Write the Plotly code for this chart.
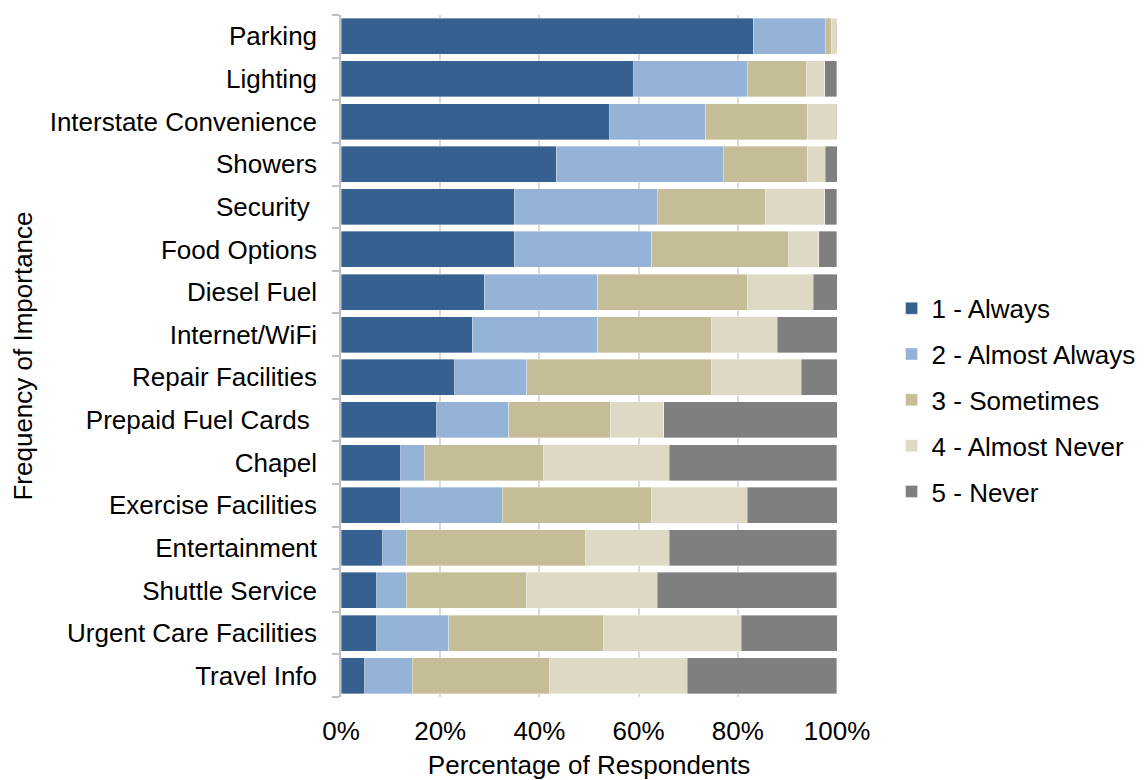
import plotly.graph_objects as go

# Amenities, listed top to bottom
amenities = [
    "Parking", "Lighting", "Interstate Convenience", "Showers", "Security ",
    "Food Options", "Diesel Fuel", "Internet/WiFi", "Repair Facilities",
    "Prepaid Fuel Cards ", "Chapel", "Exercise Facilities", "Entertainment",
    "Shuttle Service", "Urgent Care Facilities", "Travel Info",
]

# Share of respondents (%) for each response level, same order as amenities
always = [83.1, 59.0, 54.2, 43.4, 34.9, 34.9, 28.9, 26.5, 22.9, 19.3, 12.0, 12.0, 8.4, 7.2, 7.2, 4.8]
almost_always = [14.5, 22.9, 19.3, 33.7, 28.9, 27.7, 22.9, 25.3, 14.5, 14.5, 4.8, 20.5, 4.8, 6.0, 14.5, 9.6]
sometimes = [1.2, 12.0, 20.5, 16.9, 21.7, 27.7, 30.1, 22.9, 37.3, 20.5, 24.1, 30.1, 36.1, 24.1, 31.3, 27.7]
almost_never = [1.2, 3.6, 6.0, 3.6, 12.0, 6.0, 13.3, 13.3, 18.1, 10.8, 25.3, 19.3, 16.9, 26.5, 27.7, 27.7]
never = [0.0, 2.4, 0.0, 2.4, 2.4, 3.6, 4.8, 12.0, 7.2, 34.9, 33.7, 18.1, 33.7, 36.1, 19.3, 30.1]

series = [
    ("1 - Always", always, "#36608F"),
    ("2 - Almost Always", almost_always, "#95B3D7"),
    ("3 - Sometimes", sometimes, "#C4BD97"),
    ("4 - Almost Never", almost_never, "#DDD9C4"),
    ("5 - Never", never, "#7F7F7F"),
]

x_ticks = [0, 20, 40, 60, 80, 100]
x_ticklabels = ["0%", "20%", "40%", "60%", "80%", "100%"]

FONT = "Liberation Sans, Arial, sans-serif"
FS = 26

fig = go.Figure()
for i, (name, vals, color) in enumerate(series):
    fig.add_trace(go.Bar(
        y=amenities, x=vals, name=name, orientation="h",
        marker=dict(color=color, line=dict(width=0.6, color="rgba(255,255,255,0.6)")),
        legendgroup=f"g{i}",
        hoverinfo="skip",
    ))

fig.update_layout(
    barmode="stack",
    bargap=0.155,
    width=1146, height=780,
    margin=dict(l=341, r=309, t=15, b=83, autoexpand=False),
    paper_bgcolor="white", plot_bgcolor="white",
    font=dict(family=FONT, size=FS, color="black"),
    showlegend=True,
    legend=dict(
        x=1.11, xanchor="left", y=0.435, yanchor="middle",
        traceorder="grouped", tracegroupgap=9,
        font=dict(family=FONT, size=FS, color="black"),
        bgcolor="rgba(0,0,0,0)", borderwidth=0,
    ),
    xaxis=dict(
        range=[0, 100], tickvals=x_ticks, ticktext=x_ticklabels,
        showgrid=True, gridcolor="#D9D9D9", gridwidth=2,
        zeroline=False, showline=False, ticks="",
        ticklabelstandoff=16,
        title=dict(text="Percentage of Respondents", standoff=16,
                   font=dict(family=FONT, size=FS, color="black")),
        fixedrange=True,
    ),
    yaxis=dict(
        categoryorder="array", categoryarray=amenities,
        tickvals=amenities,
        ticktext=[a.replace(" ", "\u00a0") if a.endswith(" ") else a for a in amenities],
        autorange="reversed",
        showgrid=False, zeroline=False,
        showline=True, linecolor="#BFBFBF", linewidth=1.5,
        ticks="outside", ticklen=7, tickcolor="#BFBFBF", tickwidth=1.5,
        tickson="boundaries",
        ticklabelstandoff=17,
        title=dict(text="Frequency of Importance", standoff=10,
                   font=dict(family=FONT, size=FS, color="black")),
        fixedrange=True,
    ),
)

fig.write_html("out.html")
